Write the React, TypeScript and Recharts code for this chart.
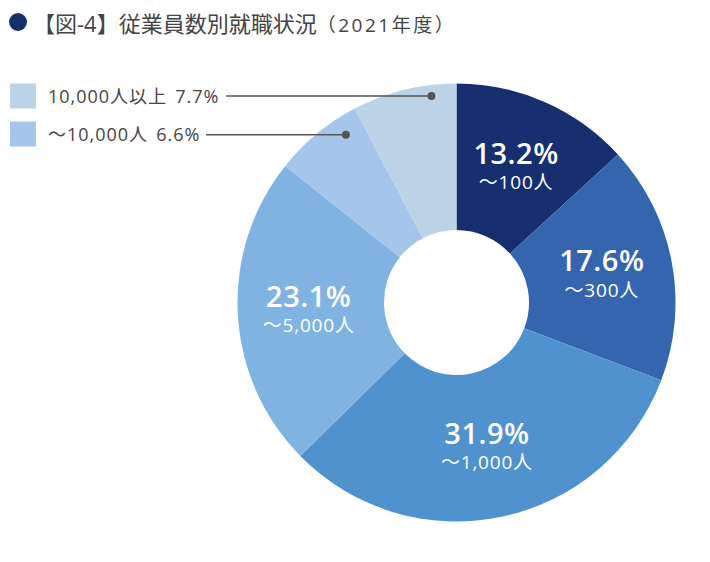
import { PieChart, Pie, Cell } from "recharts";

const CATEGORIES = ["～100人", "～300人", "～1,000人", "～5,000人", "～10,000人", "10,000人以上"];
const SHARES = [13.2, 17.6, 31.9, 23.1, 6.6, 7.7];
const COLORS = ["#172f6e", "#3565ae", "#5092cd", "#80b3e2", "#a5c6ea", "#bcd2e7"];

// slices shown as legend rows with leader lines (index -> row layout)
const LEADERS: Record<number, { rowY: number; lineX: number; frac: number; r: number }> = {
  5: { rowY: 96, lineX: 226, frac: 0.75, r: 208 },
  4: { rowY: 134, lineX: 206, frac: 0.76, r: 201 },
};

const FONT = "'Open Sans', 'Noto Sans CJK JP', sans-serif";
const RAD = Math.PI / 180;

const data = CATEGORIES.map((name, i) => ({ name, value: SHARES[i] }));

function renderLabel(props: any) {
  const { cx, cy, midAngle, startAngle, endAngle, index, payload } = props;
  const name = payload?.name ?? CATEGORIES[index];
  const value = payload?.value ?? SHARES[index];
  const leader = LEADERS[index];
  if (leader) {
    const a = startAngle + leader.frac * (endAngle - startAngle);
    const dx = cx + leader.r * Math.cos(a * RAD);
    const dy = cy - leader.r * Math.sin(a * RAD);
    return (
      <g key={`lbl-${index}`}>
        <rect x={10} y={leader.rowY - 12.5} width={26} height={25} fill={COLORS[index]} />
        <text
          x={48}
          y={leader.rowY}
          dominantBaseline="central"
          fontSize={18}
          letterSpacing={1}
          fill="#444"
          fontFamily={FONT}
        >
          {name}
          <tspan dx={8}>{value}%</tspan>
        </text>
        <line x1={leader.lineX} y1={dy} x2={dx} y2={dy} stroke="#555" strokeWidth={1.5} />
        <circle cx={dx} cy={dy} r={4} fill="#555" />
      </g>
    );
  }
  const r = 148;
  const x = cx + r * Math.cos(-midAngle * RAD);
  const y = cy + r * Math.sin(-midAngle * RAD);
  return (
    <g key={`lbl-${index}`} fontFamily={FONT} fill="#fff">
      <text x={x} y={y - 15} textAnchor="middle" dominantBaseline="central" fontSize={29} fontWeight={600} letterSpacing={0.5}>
        {value}%
      </text>
      <text x={x} y={y + 15} textAnchor="middle" dominantBaseline="central" fontSize={19} letterSpacing={0.8}>
        {name}
      </text>
    </g>
  );
}

export default function App() {
  return (
    <div style={{ position: "absolute", left: 0, top: 0, width: 710, height: 562, background: "#fff" }}>
      <div
        style={{
          position: "absolute",
          left: 9,
          top: 6,
          display: "flex",
          alignItems: "center",
          fontFamily: FONT,
          color: "#444",
          whiteSpace: "nowrap",
        }}
      >
        <span
          style={{
            display: "inline-block",
            width: 18,
            height: 18,
            borderRadius: "50%",
            background: "#172f6e",
            marginRight: 6,
          }}
        />
        <span style={{ fontSize: 22, fontWeight: 400 }}>【図-4】従業員数別就職状況</span>
        <span style={{ fontSize: 19, marginTop: 3, letterSpacing: 2.5 }}>（2021年度）</span>
      </div>
      <PieChart width={710} height={562} margin={{ top: 0, right: 0, bottom: 0, left: 0 }}>
        <Pie
          data={data}
          dataKey="value"
          nameKey="name"
          cx={456.5}
          cy={302.5}
          innerRadius={72.5}
          outerRadius={219}
          startAngle={90}
          endAngle={-270}
          stroke="none"
          label={renderLabel}
          labelLine={false}
          isAnimationActive={false}
        >
          {data.map((_, i) => (
            <Cell key={`cell-${i}`} fill={COLORS[i]} />
          ))}
        </Pie>
      </PieChart>
    </div>
  );
}
